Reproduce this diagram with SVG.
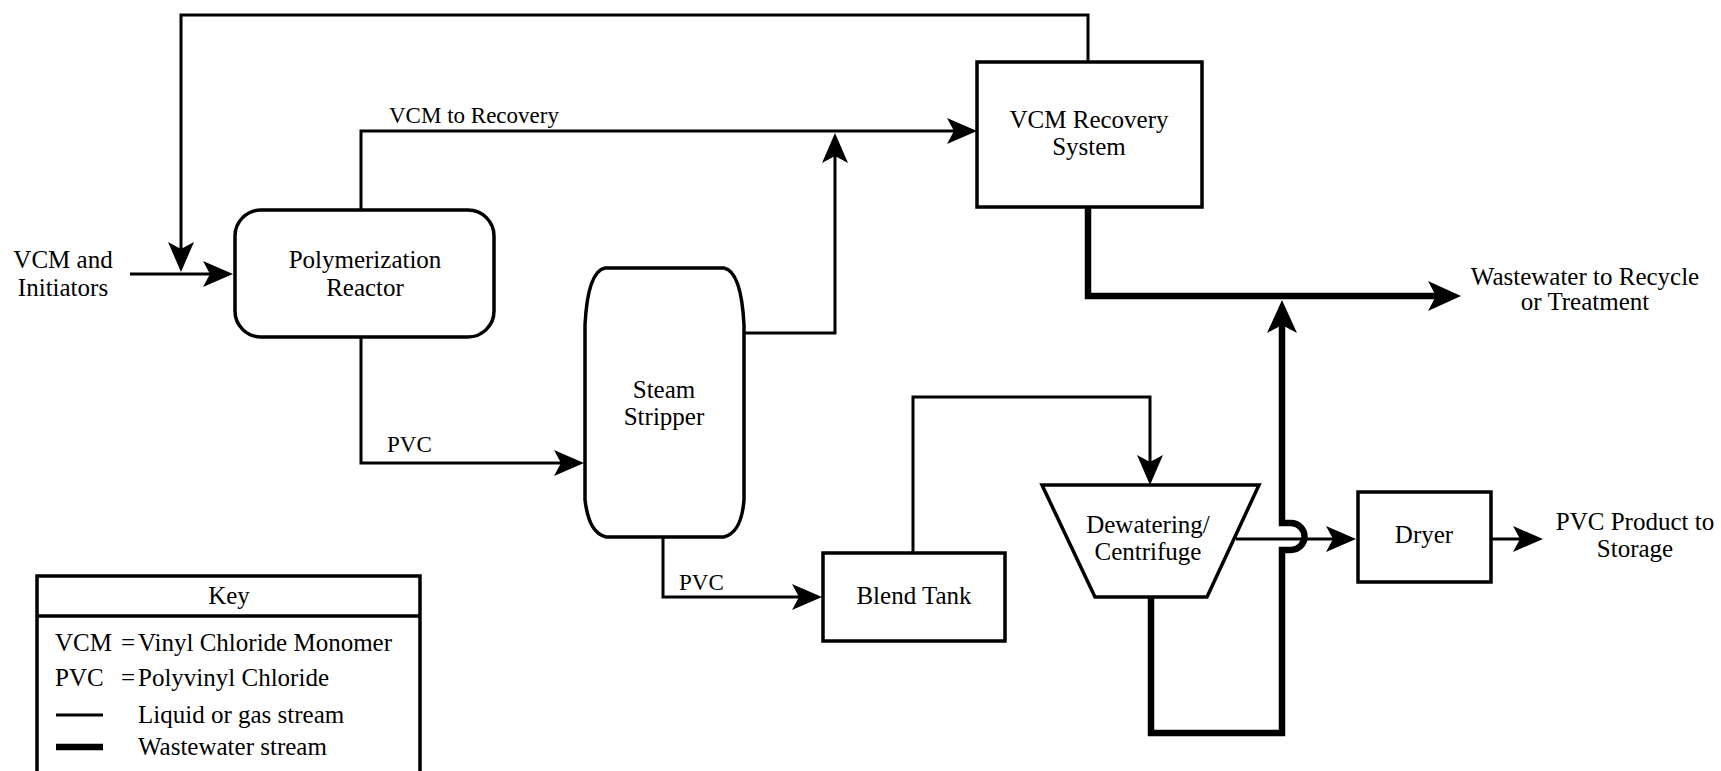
<svg xmlns="http://www.w3.org/2000/svg" width="1721" height="771" viewBox="0 0 1721 771">
<style>
text{font-family:"Liberation Serif","Times New Roman",serif;font-size:25px;fill:#000}
.lbl{font-size:23px}
.mid{text-anchor:middle}
.node{fill:#fff;stroke:#000;stroke-width:3.5}
.ln{fill:none;stroke:#000;stroke-width:3}
.ww{fill:none;stroke:#000;stroke-width:6.5}
</style>
<defs>
<marker id="arr" markerUnits="userSpaceOnUse" viewBox="0 0 30 26" markerWidth="30" markerHeight="26" refX="26" refY="13" orient="auto">
<path d="M0,0 L30,13 L0,26 L7,13 Z" fill="#000"/>
</marker>
<marker id="arrT" markerUnits="userSpaceOnUse" viewBox="0 0 33 30" markerWidth="33" markerHeight="30" refX="25" refY="15" orient="auto">
<path d="M0,0 L33,15 L0,30 L8,15 Z" fill="#000"/>
</marker>
</defs>
<rect width="1721" height="771" fill="#fff"/>

<g id="connectors">
<path class="ln" d="M130,274 H229" marker-end="url(#arr)"/>
<path class="ln" d="M1088,62 V15 H181 V268" marker-end="url(#arr)"/>
<path class="ln" d="M361,210 V131 H973" marker-end="url(#arr)"/>
<path class="ln" d="M744,333 H835 V137" marker-end="url(#arr)"/>
<path class="ln" d="M361,337 V463 H580" marker-end="url(#arr)"/>
<path class="ln" d="M663,537 V597 H818" marker-end="url(#arr)"/>
<path class="ln" d="M913,553 V397 H1150 V481" marker-end="url(#arr)"/>
<path class="ln" d="M1236,539 H1352" marker-end="url(#arr)"/>
<path class="ln" d="M1491,539 H1539" marker-end="url(#arr)"/>
<path class="ww" d="M1088,207 V296 H1453" marker-end="url(#arrT)"/>
<path class="ww" d="M1151,597 V733 H1282 V550 H1291 A13.5,13.5 0 0 0 1291,523 H1282 V308" marker-end="url(#arrT)"/>
<text class="lbl" x="389" y="123">VCM to Recovery</text>
<text class="lbl" x="387" y="452">PVC</text>
<text class="lbl" x="679" y="590">PVC</text>
</g>

<g id="input-label">
<text class="mid" x="63" y="268">VCM and</text>
<text class="mid" x="63" y="296">Initiators</text>
</g>

<g id="reactor">
<rect class="node" x="235" y="210" width="259" height="127" rx="26" ry="26"/>
<text class="mid" x="365" y="268">Polymerization</text>
<text class="mid" x="365" y="296">Reactor</text>
</g>

<g id="stripper">
<path class="node" d="M605,268 H724 C734,270 742,286 744,325 V500 C742,524 735,534 724,537 H606 C595,534 588,524 585,500 V325 C587,286 595,270 605,268 Z"/>
<text class="mid" x="664" y="398">Steam</text>
<text class="mid" x="664" y="425">Stripper</text>
</g>

<g id="vcm-recovery">
<rect class="node" x="977" y="62" width="225" height="145"/>
<text class="mid" x="1089" y="128">VCM Recovery</text>
<text class="mid" x="1089" y="155">System</text>
</g>

<g id="wastewater-out">
<text class="mid" x="1585" y="285">Wastewater to Recycle</text>
<text class="mid" x="1585" y="310">or Treatment</text>
</g>

<g id="blend-tank">
<rect class="node" x="823" y="553" width="182" height="88"/>
<text class="mid" x="914" y="604">Blend Tank</text>
</g>

<g id="dewatering">
<polygon class="node" points="1042,485 1259,485 1207,597 1095,597"/>
<text class="mid" x="1148" y="533">Dewatering/</text>
<text class="mid" x="1148" y="560">Centrifuge</text>
</g>

<g id="dryer">
<rect class="node" x="1358" y="492" width="133" height="90"/>
<text class="mid" x="1424" y="543">Dryer</text>
</g>

<g id="product-out">
<text class="mid" x="1635" y="530">PVC Product to</text>
<text class="mid" x="1635" y="557">Storage</text>
</g>

<g id="key">
<rect class="node" x="37" y="576" width="383" height="215"/>
<line x1="37" y1="616" x2="420" y2="616" stroke="#000" stroke-width="3.5"/>
<text class="mid" x="229" y="604">Key</text>
<text x="55" y="651">VCM</text>
<text x="121" y="651">=</text>
<text x="138" y="651">Vinyl Chloride Monomer</text>
<text x="55" y="686">PVC</text>
<text x="121" y="686">=</text>
<text x="138" y="686">Polyvinyl Chloride</text>
<line x1="56" y1="715" x2="103" y2="715" stroke="#000" stroke-width="3"/>
<text x="138" y="723">Liquid or gas stream</text>
<line x1="56" y1="747" x2="103" y2="747" stroke="#000" stroke-width="6.5"/>
<text x="138" y="755">Wastewater stream</text>
</g>
</svg>
